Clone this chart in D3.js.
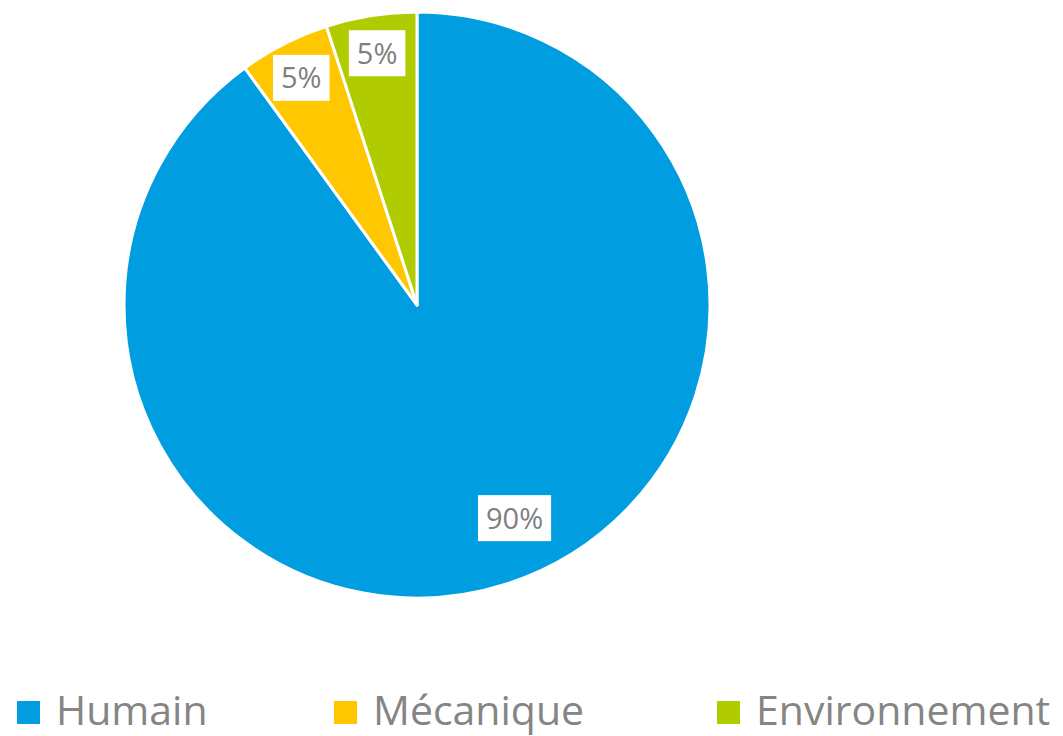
<!DOCTYPE html>
<html>
<head>
<meta charset="utf-8">
<script src="https://cdn.jsdelivr.net/npm/d3@7"></script>
<style>
  body { margin: 0; background: #fff; }
  svg text { font-family: "Open Sans", sans-serif; }
</style>
</head>
<body>
<div id="chart"></div>
<script>
// chart data
var categories = ["Humain", "Mécanique", "Environnement"];
var values = [90, 5, 5];
var colors = ["#009EE0", "#FFC700", "#B0CB00"];

var width = 1063, height = 736;
var cx = 417, cy = 305, radius = 293;

var svg = d3.select('#chart').append('svg')
    .attr('width', width)
    .attr('height', height);

var pie = d3.pie().sort(null).value(function (d) { return d; });
var arcs = pie(values);
var arc = d3.arc().innerRadius(0).outerRadius(radius);

var g = svg.append('g').attr('transform', 'translate(' + cx + ',' + cy + ')');

g.selectAll('path')
    .data(arcs)
    .enter()
    .append('path')
    .attr('d', arc)
    .attr('fill', function (d, i) { return colors[i]; })
    .attr('stroke', '#fff')
    .attr('stroke-width', 3)
    .attr('stroke-linejoin', 'round');

var total = d3.sum(values);

// labels (big slice gets "best fit" like position, small ones near the edge)
var labels = g.selectAll('g.lbl')
    .data(arcs)
    .enter()
    .append('g')
    .attr('class', 'lbl')
    .attr('transform', function (d) {
        var a = (d.startAngle + d.endAngle) / 2;
        var r = radius * 0.87;
        if (d.endAngle - d.startAngle > Math.PI) {
            a = a - 0.115;
            r = radius * 0.8;
        }
        return 'translate(' + (r * Math.sin(a)) + ',' + (-r * Math.cos(a)) + ')';
    });

labels.append('text')
    .attr('text-anchor', 'middle')
    .attr('dy', '0.36em')
    .attr('font-size', 29)
    .attr('fill', '#7F7F7F')
    .text(function (d) { return Math.round(d.value / total * 100) + '%'; });

labels.each(function () {
    var grp = d3.select(this);
    var bb = grp.select('text').node().getBBox();
    grp.insert('rect', 'text')
        .attr('x', bb.x - 8)
        .attr('y', -23)
        .attr('width', bb.width + 16)
        .attr('height', 46)
        .attr('fill', '#fff');
});

// legend
var legendX = [17, 334, 717];
var legend = svg.selectAll('g.leg')
    .data(categories)
    .enter()
    .append('g')
    .attr('class', 'leg')
    .attr('transform', function (d, i) { return 'translate(' + legendX[i] + ',701)'; });

legend.append('rect')
    .attr('width', 23)
    .attr('height', 23)
    .attr('fill', function (d, i) { return colors[i]; });

legend.append('text')
    .attr('x', 39)
    .attr('y', 24)
    .attr('font-size', 41)
    .attr('fill', '#858585')
    .text(function (d) { return d; });
</script>
</body>
</html>
